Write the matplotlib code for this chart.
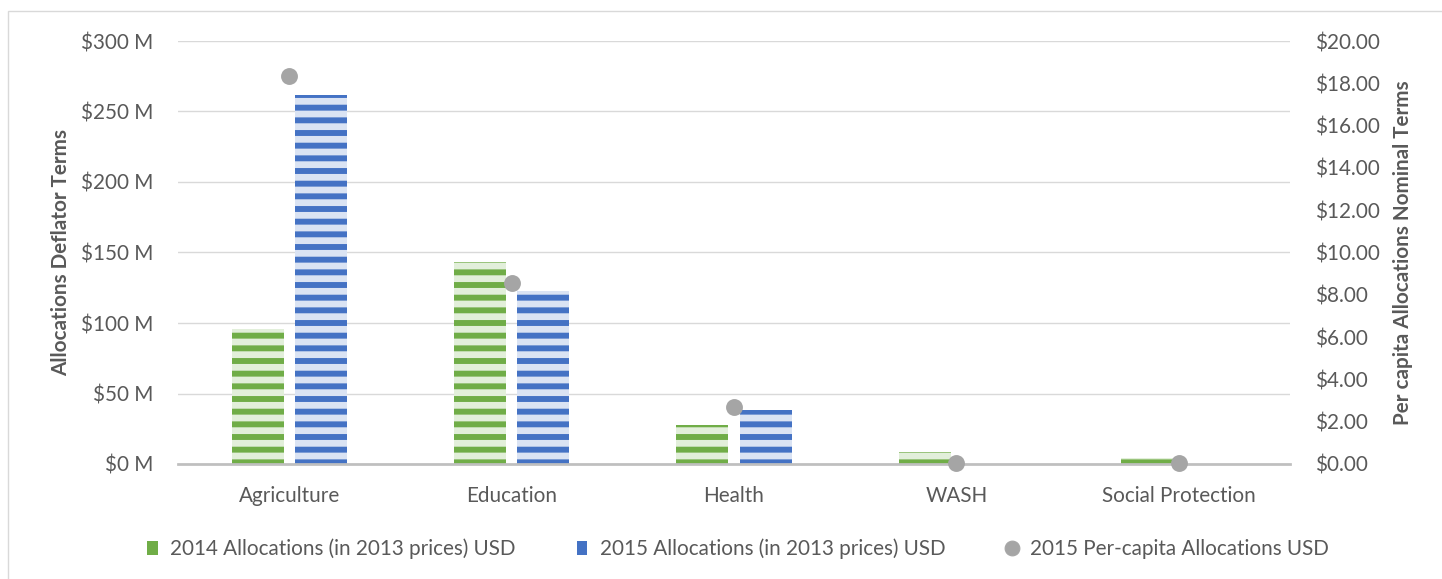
import numpy as np
import matplotlib
matplotlib.use("Agg")
import matplotlib.pyplot as plt
from matplotlib.patches import Patch, Rectangle
from matplotlib.lines import Line2D
from matplotlib.ticker import FuncFormatter, MultipleLocator

# ---------------------------------------------------------
# Data
# ---------------------------------------------------------
categories = ["Agriculture", "Education", "Health", "WASH", "Social Protection"]
alloc_2014 = [96, 143, 28, 8.5, 4.3]        # $ M, 2013 prices
alloc_2015 = [262, 123, 38, 0, 0]           # $ M, 2013 prices
per_capita_2015 = [18.35, 8.55, 2.7, 0.05, 0.03]  # USD per capita

labels = ["2014 Allocations (in 2013 prices) USD",
          "2015 Allocations (in 2013 prices) USD",
          "2015 Per-capita Allocations USD"]

# colours
green_dark, green_light = "#70AD47", "#E2EFDA"
blue_dark, blue_light = "#4472C4", "#DAE3F3"
dot_grey = "#A5A5A5"
text_grey = "#595959"
grid_grey = "#D9D9D9"

# dpi chosen so the stock '-' hatch gives ~13px stripe spacing
DPI = 76
FS = 19.5
plt.rcParams['font.family'] = ['Lato', 'DejaVu Sans']
plt.rcParams['hatch.linewidth'] = 5.6

fig = plt.figure(figsize=(1442 / DPI, 579 / DPI), dpi=DPI)
ax = fig.add_axes([178 / 1442, 1 - 464 / 579, (1290 - 178) / 1442, (464 - 41) / 579])
ax2 = ax.twinx()

x = np.arange(len(categories))
w = 0.234
off = 0.142

ax.bar(x - off, alloc_2014, width=w, facecolor=green_light, edgecolor=green_dark,
       hatch='-', linewidth=0, zorder=2)
ax.bar(x + off, alloc_2015, width=w, facecolor=blue_light, edgecolor=blue_dark,
       hatch='-', linewidth=0, zorder=2)

ax2.scatter(x, per_capita_2015, s=16 ** 2, color=dot_grey, zorder=3, linewidths=0,
            clip_on=False)

# axes styling
ax.set_xlim(-0.5, len(categories) - 0.5)
ax.set_ylim(0, 300)
ax2.set_ylim(0, 20)
ax.yaxis.set_major_locator(MultipleLocator(50))
ax2.yaxis.set_major_locator(MultipleLocator(2))
ax.yaxis.set_major_formatter(FuncFormatter(lambda v, p: f"${v:.0f} M"))
ax2.yaxis.set_major_formatter(FuncFormatter(lambda v, p: f"${v:.2f}"))

ax.grid(axis='y', color=grid_grey, linewidth=1.3, zorder=0)
ax.set_axisbelow(True)
for a in (ax, ax2):
    for s in a.spines.values():
        s.set_visible(False)
ax.axhline(0, color="#BFBFBF", linewidth=2.6, zorder=2.5, clip_on=False)

ax.set_xticks(x)
ax.set_xticklabels(categories)
ax.tick_params(axis='x', length=0, pad=21, labelsize=FS, labelcolor=text_grey)
ax.tick_params(axis='y', length=0, pad=23, labelsize=FS, labelcolor=text_grey)
ax2.tick_params(axis='y', length=0, pad=24, labelsize=FS, labelcolor=text_grey)

ax.set_ylabel("Allocations Deflator Terms", fontsize=FS, fontweight='bold',
              color=text_grey, labelpad=10)
ax2.set_ylabel("Per capita Allocations Nominal Terms", fontsize=FS, fontweight='bold',
               color=text_grey, labelpad=12)

# legend
handles = [
    Patch(facecolor=green_light, edgecolor=green_dark, hatch='---', linewidth=0),
    Patch(facecolor=blue_light, edgecolor=blue_dark, hatch='---', linewidth=0),
    Line2D([], [], marker='o', linestyle='none', color=dot_grey, markersize=14),
]
leg = fig.legend(handles, labels, loc='center', bbox_to_anchor=(738 / 1442, 1 - 549 / 579),
                 ncol=3, frameon=False, fontsize=FS, handlelength=0.5, handleheight=0.7,
                 handletextpad=0.6, columnspacing=3.0, labelcolor=text_grey)

# chart frame (left/top edges visible in the reference)
fig.patches.append(Rectangle((8 / 1442, -0.1), 1.2, 1.1 - 11 / 579,
                             transform=fig.transFigure, fill=False,
                             edgecolor="#D9D9D9", linewidth=1.3))

fig.savefig("out.png", dpi=DPI)
